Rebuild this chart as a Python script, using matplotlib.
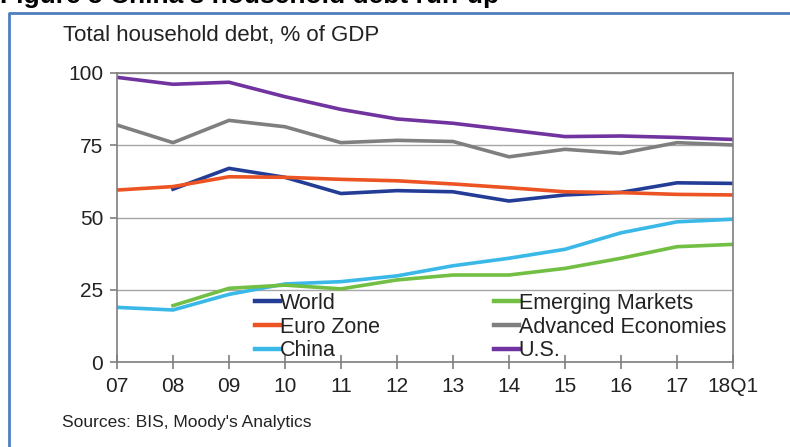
import numpy as np
import matplotlib
matplotlib.use("Agg")
import matplotlib.pyplot as plt
from matplotlib.lines import Line2D

plt.rcParams['font.family'] = ['Liberation Sans', 'DejaVu Sans']

# Data (% of GDP)
years = ['07', '08', '09', '10', '11', '12', '13', '14', '15', '16', '17', '18Q1']
world = [np.nan, 59.8, 67.0, 63.9, 58.3, 59.3, 58.9, 55.7, 57.8, 58.7, 62.0, 61.8]
euro_zone = [59.5, 60.7, 64.1, 63.9, 63.2, 62.7, 61.6, 60.3, 58.9, 58.6, 58.0, 57.8]
china = [18.9, 18.0, 23.4, 27.0, 27.8, 29.8, 33.3, 35.9, 39.0, 44.7, 48.5, 49.4]
emerging = [np.nan, 19.5, 25.5, 26.6, 25.3, 28.4, 30.1, 30.1, 32.4, 35.9, 39.9, 40.7]
advanced = [82.0, 75.9, 83.6, 81.4, 75.9, 76.7, 76.3, 71.0, 73.6, 72.2, 75.9, 75.1]
us = [98.5, 96.1, 96.8, 91.8, 87.4, 84.1, 82.6, 80.3, 78.0, 78.2, 77.7, 77.0]

W, H = 790, 447
fig = plt.figure(figsize=(W / 100, H / 100), dpi=100)
ax = fig.add_axes([117 / W, 1 - 362 / H, (733 - 117) / W, (362 - 73) / H])

x = np.arange(len(years))
lw = 2.6
ax.plot(x, world, color='#233d96', lw=lw, label='World')
ax.plot(x, euro_zone, color='#ec5424', lw=lw, label='Euro Zone')
ax.plot(x, china, color='#3ab8e8', lw=lw, label='China')
ax.plot(x, emerging, color='#72bf44', lw=lw, label='Emerging Markets')
ax.plot(x, advanced, color='#7f7f7f', lw=lw, label='Advanced Economies')
ax.plot(x, us, color='#7033a0', lw=lw, label='U.S.')

ax.set_xlim(0, len(years) - 1)
ax.set_ylim(0, 100)
ax.set_xticks(x)
ax.set_xticklabels(years)
ax.set_yticks([0, 25, 50, 75, 100])
ax.yaxis.grid(True, color='#a6a6a6', lw=1)
ax.set_axisbelow(True)
for s in ax.spines.values():
    s.set_color('#7f7f7f')
    s.set_linewidth(1.2)
ax.tick_params(axis='x', direction='inout', length=10, color='#7f7f7f', width=1.2,
               labelsize=15, pad=6, labelcolor='#222222')
ax.tick_params(axis='y', direction='out', length=5, color='#7f7f7f', width=1.2,
               labelsize=15, pad=5, labelcolor='#222222')

leg = ax.legend(ncol=2, loc='upper left', bbox_to_anchor=(255 / W, 1 - 293 / H),
                bbox_transform=fig.transFigure, frameon=False, fontsize=15.5,
                handlelength=1.15, handletextpad=0.0, labelspacing=0.12,
                columnspacing=5.3, borderpad=0, borderaxespad=0)
for t in leg.get_texts():
    t.set_color('#222222')
for h in leg.legend_handles:
    h.set_linewidth(3.2)

# frame border and clipped heading
fig.add_artist(Line2D([8.5 / W, 8.5 / W, 1.0], [0.0, 1 - 13 / H, 1 - 13 / H],
                      transform=fig.transFigure, color='#4f7fbf', lw=2))
fig.text(0.0, 1 - 3.5 / H, "Figure 5 China's household debt run-up", fontsize=19,
         fontweight='bold', va='baseline', ha='left')
fig.text(63 / W, 1 - 35 / H, 'Total household debt, % of GDP', fontsize=16,
         va='center', ha='left', color='#222222')
fig.text(62 / W, 1 - 423 / H, "Sources: BIS, Moody's Analytics", fontsize=12.5,
         va='center', ha='left', color='#222222')

fig.savefig('out.png', dpi=100)
